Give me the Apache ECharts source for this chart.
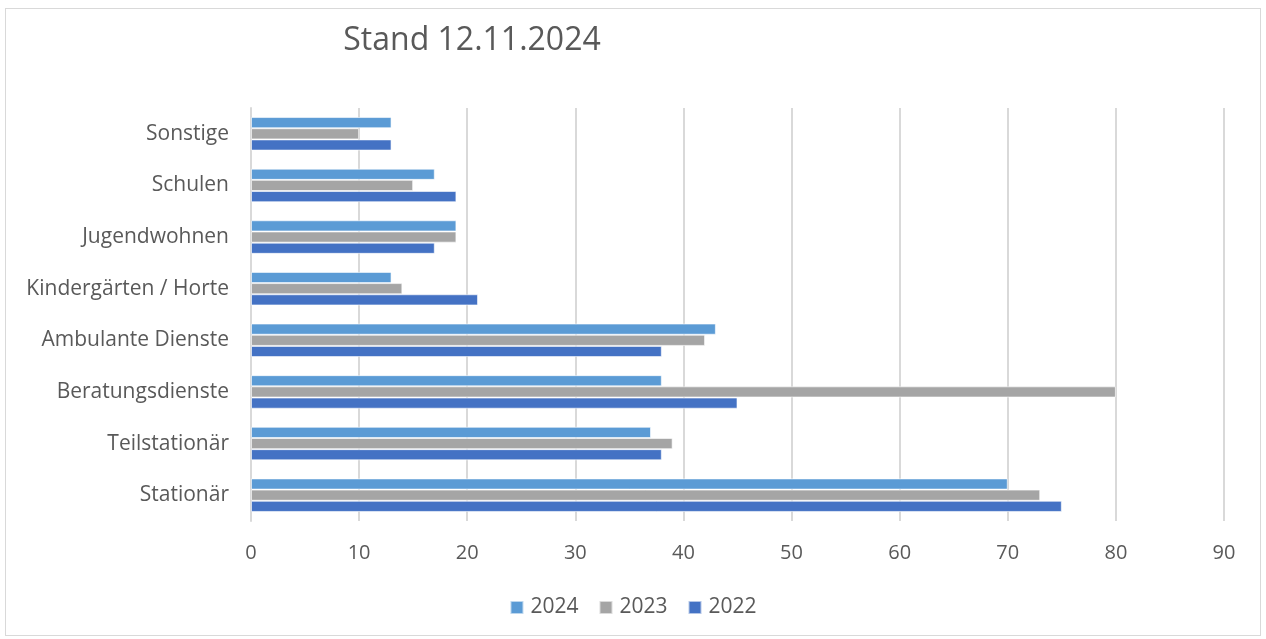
<!DOCTYPE html>
<html><head><meta charset="utf-8">
<script src="https://cdn.jsdelivr.net/npm/echarts@6/dist/echarts.min.js"></script>
<style>
html,body{margin:0;padding:0;background:#fff;}
#frame{position:absolute;left:5px;top:8px;width:1256px;height:628px;border:1px solid #d9d9d9;box-sizing:border-box;}
#c{position:absolute;left:0;top:0;width:1266px;height:639px;}
</style></head>
<body>
<div id="frame"></div>
<div id="c"></div>
<script>
const categories = ['Stationär','Teilstationär','Beratungsdienste','Ambulante Dienste','Kindergärten / Horte','Jugendwohnen','Schulen','Sonstige'];
const values2022 = [75, 38, 45, 38, 21, 17, 19, 13];
const values2023 = [73, 39, 80, 42, 14, 19, 15, 10];
const values2024 = [70, 37, 38, 43, 13, 19, 17, 13];
const xTicks = {min: 0, max: 90, interval: 10};
const fontFam = 'Open Sans, Liberation Sans, sans-serif';
const chart = echarts.init(document.getElementById('c'), null, {renderer:'canvas'});
const barStyle = c => ({color: c, borderColor: 'rgba(255,255,255,0.6)', borderWidth: 1});
chart.setOption({
  animation: false,
  title: {text: 'Stand 12.11.2024', left: 467, top: 20, textAlign: 'center',
    textStyle: {fontFamily: fontFam, fontWeight: 'normal', fontSize: 32, color: '#595959'}},
  legend: {data: ['2024','2023','2022'], bottom: 16, left: 'center', itemWidth: 13, itemHeight: 13, itemGap: 20,
    icon: 'rect', textStyle: {fontFamily: fontFam, fontSize: 21, color: '#595959', padding: [0, 0, 0, 2]}},
  grid: {left: 251, right: 42, top: 108, bottom: 118, containLabel: false},
  xAxis: {type: 'value', min: xTicks.min, max: xTicks.max, interval: xTicks.interval,
    axisLine: {show: false}, axisTick: {show: false},
    splitLine: {lineStyle: {color: '#d9d9d9', width: 2}},
    axisLabel: {fontFamily: fontFam, fontSize: 20, color: '#595959', margin: 22}},
  yAxis: {type: 'category', data: categories,
    axisLine: {show: true, lineStyle: {color: '#d9d9d9', width: 2}}, axisTick: {show: false},
    axisLabel: {fontFamily: fontFam, fontSize: 21, color: '#595959', margin: 22}},
  series: [
    {name: '2024', type: 'bar', data: values2024, itemStyle: barStyle('#5B9BD5'), barGap: '0%', barCategoryGap: '35%'},
    {name: '2023', type: 'bar', data: values2023, itemStyle: barStyle('#A5A5A5'), barGap: '0%', barCategoryGap: '35%'},
    {name: '2022', type: 'bar', data: values2022, itemStyle: barStyle('#4472C4'), barGap: '0%', barCategoryGap: '35%'}
  ]
});
</script>
</body></html>
